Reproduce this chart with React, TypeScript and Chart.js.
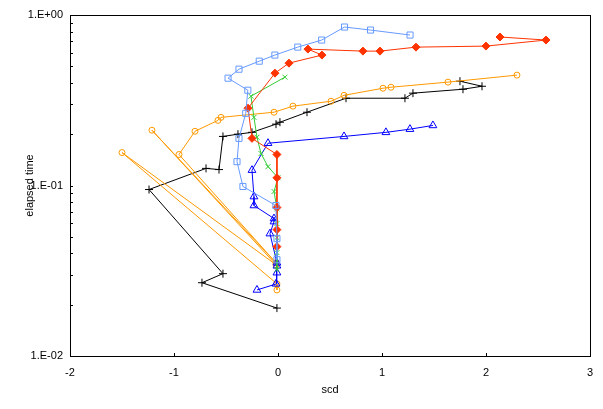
import React, { useEffect, useRef } from 'react';
import { Chart, registerables } from 'chart.js';

Chart.register(...registerables);

// axis ticks
const xTickValues = [-2, -1, 0, 1, 2, 3];
const yTickValues = [0.01, 0.1, 1];
const yTickLabels = ['1.E-02', '1.E-01', '1.E+00'];
const xTitle = 'scd';
const yTitle = 'elapsed time';

// light blue, open squares
const squaresX = [1.27, 0.89, 0.64, 0.42, 0.19, -0.03, -0.18, -0.375, -0.48, -0.29, -0.31, -0.375, -0.394, -0.337, -0.02, -0.01, -0.01];
const squaresY = [0.763, 0.816, 0.85, 0.713, 0.648, 0.582, 0.536, 0.481, 0.426, 0.362, 0.265, 0.189, 0.138, 0.0987, 0.0763, 0.0488, 0.0367];

// red, filled diamonds
const diamondsX = [2.135, 2.577, 2.0, 1.327, 0.981, 0.817, 0.288, 0.423, 0.106, -0.029, -0.288, -0.25, -0.01, -0.01, -0.01, -0.01, -0.01];
const diamondsY = [0.743, 0.713, 0.657, 0.648, 0.614, 0.614, 0.631, 0.582, 0.522, 0.456, 0.284, 0.189, 0.152, 0.111, 0.0743, 0.0551, 0.0438];

// green, x crosses
const crossesX = [0.067, -0.26, -0.231, -0.202, -0.163, -0.096, 0.0, -0.038, -0.01, -0.01, -0.01, -0.01, -0.01];
const crossesY = [0.432, 0.334, 0.251, 0.192, 0.154, 0.129, 0.111, 0.0922, 0.0732, 0.0598, 0.0495, 0.0404, 0.0321];

// blue, open triangles
const trianglesX = [1.49, 1.269, 1.038, 0.635, -0.096, -0.25, -0.231, -0.231, -0.038, -0.038, -0.077, -0.01, -0.01, -0.01, -0.019, -0.202];
const trianglesY = [0.225, 0.214, 0.205, 0.194, 0.177, 0.123, 0.0861, 0.0763, 0.064, 0.0614, 0.0522, 0.0352, 0.0338, 0.0308, 0.0265, 0.0244];

// orange, open circles
const circlesX = [2.298, 1.635, 1.087, 1.01, 0.635, 0.51, 0.144, -0.038, -0.548, -0.577, -0.798, -0.952, -0.019, -1.212, -0.019, -1.5, -0.01, -0.01];
const circlesY = [0.444, 0.404, 0.377, 0.372, 0.338, 0.312, 0.292, 0.269, 0.251, 0.241, 0.208, 0.152, 0.0352, 0.211, 0.0343, 0.156, 0.0265, 0.0244];

// black, plus signs
const plusX = [-0.01, -0.731, -0.529, -1.24, -0.692, -0.567, -0.529, -0.385, -0.25, -0.019, 0.019, 0.279, 0.654, 1.221, 1.298, 1.779, 1.962, 1.75];
const plusY = [0.0191, 0.0269, 0.0304, 0.0947, 0.126, 0.124, 0.194, 0.2, 0.205, 0.229, 0.235, 0.269, 0.325, 0.325, 0.348, 0.367, 0.382, 0.409];

const FONT = '"Liberation Sans", Arial, sans-serif';

const zip = (xs: number[], ys: number[]) => xs.map((x, i) => ({ x, y: ys[i] }));

const framePlugin = {
  id: 'frameTicks',
  afterDatasetsDraw(chart: any) {
    const { ctx, chartArea, scales } = chart;
    const { left, right, top, bottom } = chartArea;
    ctx.save();
    ctx.strokeStyle = '#000';
    ctx.lineWidth = 1;
    const ys = scales.y;
    for (let e = -2; e < 0; e++) {
      for (let m = 1; m <= 9; m++) {
        const v = m * Math.pow(10, e);
        const py = Math.round(ys.getPixelForValue(v)) + 0.5;
        ctx.beginPath();
        ctx.moveTo(left, py);
        ctx.lineTo(left + 3, py);
        ctx.stroke();
      }
    }
    const xs = scales.x;
    xTickValues.forEach((v) => {
      const px = Math.round(xs.getPixelForValue(v)) + 0.5;
      ctx.beginPath();
      ctx.moveTo(px, bottom);
      ctx.lineTo(px, bottom - 3);
      ctx.stroke();
    });
    ctx.strokeRect(Math.round(left) + 0.5, Math.round(top) + 0.5, Math.round(right - left), Math.round(bottom - top));
    ctx.restore();
  },
};

export default function App() {
  const ref = useRef<HTMLCanvasElement | null>(null);
  useEffect(() => {
    if (!ref.current) return;
    const mk = (label: string, xs: number[], ys: number[], color: string, style: string, radius: number, filled: boolean) => ({
      label,
      data: zip(xs, ys),
      showLine: true,
      borderColor: color,
      borderWidth: 1,
      backgroundColor: filled ? color : 'rgba(0,0,0,0)',
      pointStyle: style,
      pointRadius: radius,
      pointBorderWidth: 1,
      pointBorderColor: color,
      pointBackgroundColor: filled ? color : 'rgba(0,0,0,0)',
      tension: 0,
    });
    const chart = new Chart(ref.current, {
      type: 'scatter',
      data: {
        datasets: [
          mk('squares', squaresX, squaresY, '#6699FF', 'rect', 4.3, false),
          mk('diamonds', diamondsX, diamondsY, '#FF3300', 'rectRot', 4, true),
          mk('crosses', crossesX, crossesY, '#33CC33', 'crossRot', 3.5, false),
          mk('triangles', trianglesX, trianglesY, '#0000FF', 'triangle', 4.5, false),
          mk('circles', circlesX, circlesY, '#FF9900', 'circle', 3, false),
          mk('plus', plusX, plusY, '#000000', 'cross', 4, false),
        ] as any,
      },
      options: {
        animation: false,
        responsive: false,
        maintainAspectRatio: false,
        layout: { padding: { left: 0, right: 13, top: 15, bottom: 0 } },
        plugins: { legend: { display: false }, tooltip: { enabled: false } },
        scales: {
          x: {
            type: 'linear',
            min: -2,
            max: 3,
            afterBuildTicks: (scale: any) => {
              scale.ticks = xTickValues.map((v) => ({ value: v }));
            },
            afterFit: (scale: any) => {
              scale.height = 53;
            },
            grid: { display: false, drawTicks: false },
            border: { display: false },
            ticks: {
              autoSkip: false,
              maxRotation: 0,
              padding: 10,
              color: '#000',
              font: { family: FONT, size: 11 },
              callback: (v: any) => String(v),
            },
            title: {
              display: true,
              text: xTitle,
              color: '#000',
              font: { family: FONT, size: 11 },
              padding: { top: 0, bottom: 12 },
            },
          },
          y: {
            type: 'logarithmic',
            min: 0.01,
            max: 1,
            afterBuildTicks: (scale: any) => {
              scale.ticks = yTickValues.map((v) => ({ value: v }));
            },
            afterFit: (scale: any) => {
              scale.width = 70;
            },
            grid: { display: false, drawTicks: false },
            border: { display: false },
            ticks: {
              autoSkip: false,
              padding: 7,
              color: '#000',
              font: { family: FONT, size: 11 },
              callback: (v: any) => {
                const i = yTickValues.findIndex((t) => Math.abs(t - Number(v)) < 1e-9);
                return i >= 0 ? yTickLabels[i] : '';
              },
            },
            title: {
              display: true,
              text: yTitle,
              color: '#000',
              font: { family: FONT, size: 11 },
              padding: { top: 23, bottom: 0 },
            },
          },
        },
      } as any,
      plugins: [framePlugin],
    });
    return () => chart.destroy();
  }, []);
  return (
    <div style={{ position: 'absolute', left: 0, top: 0, width: 603, height: 409, background: '#fff' }}>
      <canvas ref={ref} width={603} height={409} style={{ width: 603, height: 409 }} />
    </div>
  );
}
